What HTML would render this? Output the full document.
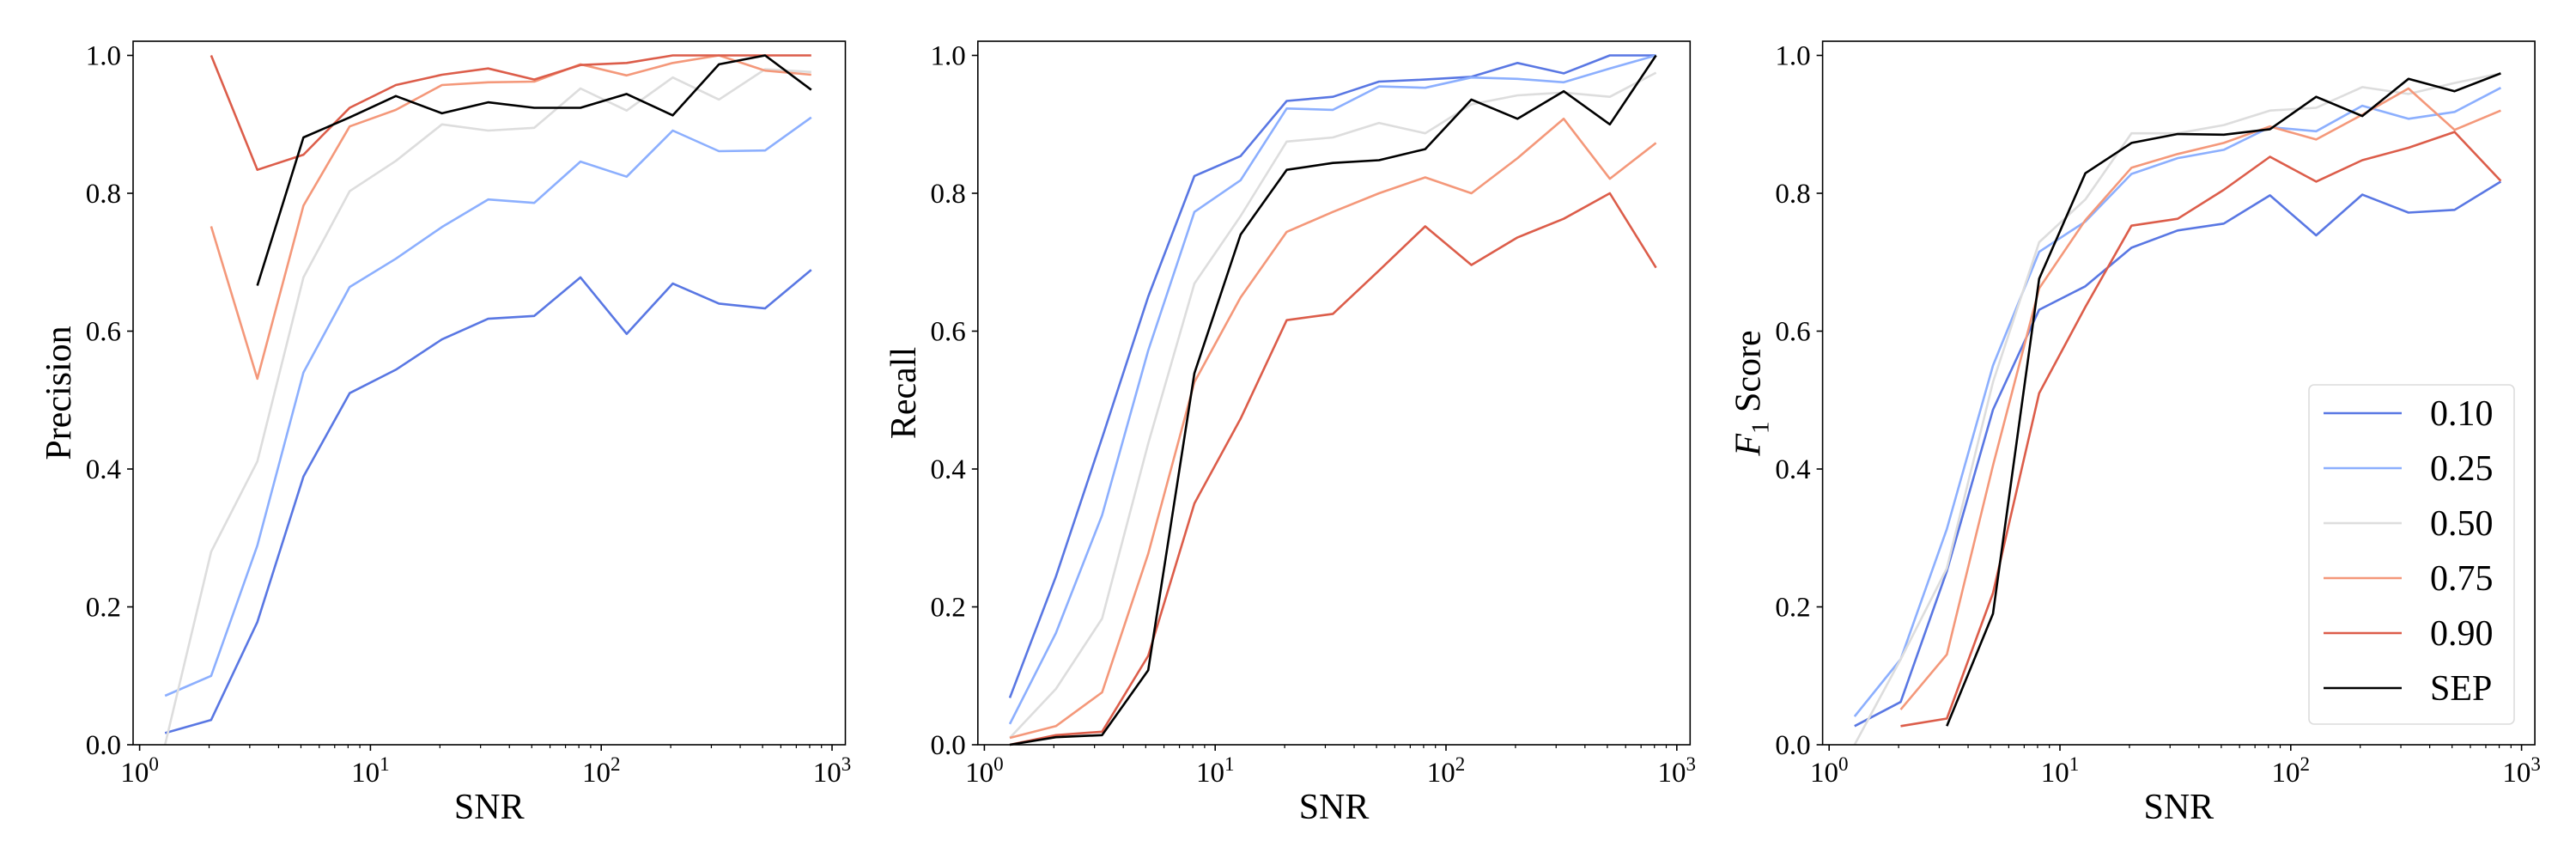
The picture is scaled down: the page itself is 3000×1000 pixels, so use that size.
<!DOCTYPE html>
<html><head><meta charset="utf-8"><style>
html,body{margin:0;padding:0;background:#fff;}
svg{display:block;font-family:"Liberation Serif",serif;}
</style></head><body>
<svg id="chart" width="3000" height="1000" viewBox="0 0 3000 1000" xmlns="http://www.w3.org/2000/svg"></svg>
<script>
const snrExp = [0.11,0.31,0.51,0.71,0.91,1.11,1.31,1.51,1.71,1.91,2.11,2.31,2.51,2.71,2.91];
const seriesNames = ["0.10","0.25","0.50","0.75","0.90","SEP"];
const seriesColors = ["#5977e3","#8caffe","#dddddd","#f4987a","#dc5d4a","#000000"];
const yTicks = [0,0.2,0.4,0.6,0.8,1.0];
const yTickLabels = ["0.0","0.2","0.4","0.6","0.8","1.0"];
const xTickExp = [0,1,2,3];
const panelTitles = ["Precision","Recall","F1"];
// Precision (null = no point)
const prec010 = [0.017,0.036,0.178,0.389,0.51,0.544,0.588,0.618,0.622,0.678,0.596,0.669,0.64,0.633,0.689];
const prec025 = [0.071,0.1,0.289,0.54,0.664,0.705,0.751,0.791,0.786,0.846,0.824,0.891,0.861,0.862,0.91];
const prec050 = [0.0,0.28,0.411,0.678,0.803,0.847,0.9,0.891,0.895,0.952,0.92,0.968,0.936,0.98,0.976];
const prec075 = [null,0.752,0.531,0.782,0.897,0.921,0.957,0.961,0.962,0.987,0.971,0.989,1.0,0.978,0.972];
const prec090 = [null,1.0,0.834,0.856,0.924,0.957,0.972,0.981,0.965,0.986,0.989,1.0,1.0,1.0,1.0];
const precSEP = [null,null,0.666,0.881,0.91,0.941,0.916,0.932,0.924,0.924,0.944,0.913,0.987,1.0,0.95];
// Recall
const rec010 = [0.068,0.244,0.445,0.65,0.825,0.854,0.934,0.94,0.962,0.965,0.969,0.989,0.974,1.0,1.0];
const rec025 = [0.03,0.162,0.333,0.572,0.773,0.819,0.923,0.921,0.955,0.953,0.968,0.966,0.961,0.981,1.0];
const rec050 = [0.01,0.081,0.183,0.437,0.669,0.767,0.875,0.881,0.902,0.887,0.929,0.942,0.946,0.94,0.975];
const rec075 = [0.01,0.027,0.076,0.277,0.526,0.649,0.744,0.773,0.8,0.823,0.8,0.851,0.908,0.821,0.873];
const rec090 = [0.0,0.014,0.019,0.129,0.35,0.473,0.616,0.625,0.688,0.752,0.696,0.736,0.763,0.8,0.692];
const recSEP = [0.0,0.011,0.014,0.108,0.539,0.74,0.834,0.844,0.848,0.864,0.936,0.908,0.948,0.9,1.0];
// F1
const f1010 = [0.027,0.062,0.252,0.486,0.631,0.665,0.721,0.746,0.756,0.797,0.739,0.798,0.772,0.776,0.817];
const f1025 = [0.041,0.124,0.313,0.55,0.715,0.759,0.828,0.851,0.863,0.896,0.89,0.927,0.908,0.918,0.953];
const f1050 = [0.0,0.124,0.256,0.526,0.729,0.791,0.887,0.887,0.899,0.92,0.924,0.954,0.944,0.96,0.974];
const f1075 = [null,0.051,0.131,0.405,0.662,0.761,0.837,0.857,0.873,0.897,0.878,0.914,0.952,0.892,0.92];
const f1090 = [null,0.027,0.038,0.22,0.51,0.635,0.753,0.763,0.805,0.853,0.817,0.848,0.866,0.889,0.818];
const f1SEP = [null,null,0.027,0.19,0.676,0.829,0.873,0.886,0.885,0.893,0.94,0.912,0.966,0.948,0.974];

const panelData = [
  [prec010,prec025,prec050,prec075,prec090,precSEP],
  [rec010,rec025,rec050,rec075,rec090,recSEP],
  [f1010,f1025,f1050,f1075,f1090,f1SEP]
];

const NS="http://www.w3.org/2000/svg";
const svg=document.getElementById('chart');
function mk(tag,attrs,parent){const e=document.createElementNS(NS,tag);for(const k in attrs)e.setAttribute(k,attrs[k]);(parent||svg).appendChild(e);return e;}

const panelLefts=[155,1138.8,2122.6];
const PW=829.5, TOP=48, BOT=867, YSCALE=802.5, DEC=268.8;

panelLefts.forEach((L,pi)=>{
  const xs=e=>L+7.6+e*DEC;
  const ys=v=>BOT-v*YSCALE;
  const g=mk('g',{});
  
  
  // series
  panelData[pi].forEach((arr,si)=>{
    let d='';let started=false;
    arr.forEach((v,k)=>{ if(v===null) return; d+=(started?'L':'M')+xs(snrExp[k]).toFixed(1)+' '+ys(v).toFixed(1)+' '; started=true;});
    const p=mk('path',{d:d,fill:'none',stroke:seriesColors[si],'stroke-width':2.6,'stroke-linejoin':'round'},g);
     
    
  });
  // frame
  const fr=mk('rect',{x:L,y:TOP,width:PW,height:BOT-TOP,fill:'none',stroke:'#000','stroke-width':1.6},g);
  
  
  // y ticks
  yTicks.forEach((v,i)=>{
    mk('line',{x1:L-7,x2:L,y1:ys(v),y2:ys(v),stroke:'#000','stroke-width':1.6},g);
    const t=mk('text',{x:L-14,y:ys(v)+11,'text-anchor':'end','font-size':33},g);
    t.textContent=yTickLabels[i];
    
    
  });
  // x ticks
  xTickExp.forEach(e=>{
    const x=xs(e);
    mk('line',{x1:x,x2:x,y1:BOT,y2:BOT+7,stroke:'#000','stroke-width':1.6},g);
    const t=mk('text',{x:x,y:BOT+43,'text-anchor':'middle','font-size':33},g);
    
    
    const a=mk('tspan',{},t);a.textContent='10';
    const b=mk('tspan',{dy:-13,'font-size':23},t);b.textContent=String(e);
    if(e<3){for(let m=2;m<=9;m++){const xm=xs(e+Math.log10(m));mk('line',{x1:xm,x2:xm,y1:BOT,y2:BOT+4,stroke:'#000','stroke-width':1.2},g);}}
  });
  const xl=mk('text',{x:L+PW/2,y:953,'text-anchor':'middle','font-size':42},g);
  xl.textContent='SNR';
  
  
  const cx=L-87, cy=(TOP+BOT)/2;
  const yl=mk('text',{x:cx,y:cy,'text-anchor':'middle','font-size':42,transform:'rotate(-90 '+cx+' '+cy+') translate(0 14)'},g);
  
  
  if(pi<2){yl.textContent=panelTitles[pi];}
  else{
    const f=mk('tspan',{'font-style':'italic'},yl);f.textContent='F';
    const s=mk('tspan',{dy:10,'font-size':29},yl);s.textContent='1';
    const r=mk('tspan',{dy:-10},yl);r.textContent=' Score';
  }
});

// legend
const lg=mk('g',{});


mk('rect',{x:2689,y:448,width:239,height:395,rx:6,fill:'#fff','fill-opacity':0.8,stroke:'#dcdcdc','stroke-width':1.6},lg);
seriesNames.forEach((n,i)=>{
  const y=481+i*64;
  const e=mk('g',{},lg);
  
  
  mk('line',{x1:2706,x2:2797,y1:y,y2:y,stroke:seriesColors[i],'stroke-width':2.6},e);
  const t=mk('text',{x:2830,y:y+14,'font-size':42},e);
  t.textContent=n;
});
</script>
</body></html>
